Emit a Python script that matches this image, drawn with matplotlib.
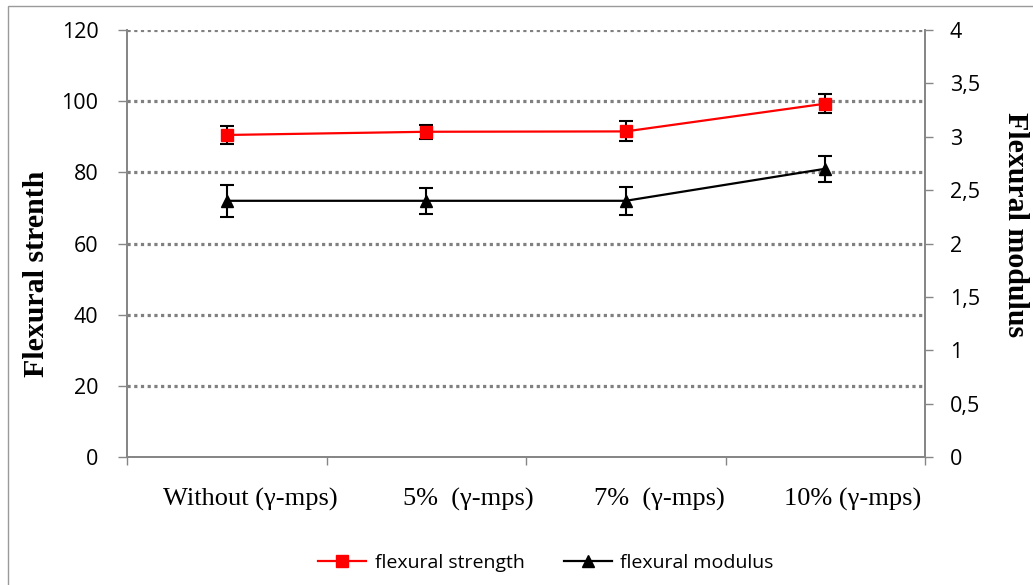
import matplotlib
matplotlib.use("Agg")
import matplotlib.pyplot as plt
import matplotlib.transforms as mtransforms
from matplotlib.patches import Rectangle
from matplotlib.lines import Line2D

categories = ["Without (\u03b3-mps)", "5%  (\u03b3-mps)", "7%  (\u03b3-mps)", "10% (\u03b3-mps)"]
strength = [90.5, 91.4, 91.5, 99.3]
strength_err = [2.6, 2.0, 2.8, 2.6]
modulus = [2.40, 2.40, 2.40, 2.70]
modulus_err = [0.15, 0.12, 0.13, 0.12]
left_ticks = [0, 20, 40, 60, 80, 100, 120]
right_ticks = [0, 0.5, 1, 1.5, 2, 2.5, 3, 3.5, 4]
right_labels = ["0", "0,5", "1", "1,5", "2", "2,5", "3", "3,5", "4"]

W, H = 1033, 585
fig = plt.figure(figsize=(W / 100, H / 100), dpi=100)
fig.patch.set_facecolor("white")

# outer chart border
fig.patches.append(Rectangle((8 / W, -0.05), 1.2, 1 - 6 / H + 0.05, transform=fig.transFigure,
                             fill=False, edgecolor="#9a9a9a", linewidth=1.0))

ax = fig.add_axes([127 / W, 1 - 457 / H, (925 - 127) / W, (457 - 30) / H])
ax2 = ax.twinx()

tickfont = "Open Sans"
spine_c = "#868686"

x = list(range(len(categories)))
ax.set_xlim(-0.5, len(categories) - 0.5)
ax.set_ylim(0, 120)
ax2.set_ylim(0, 4)

# grid
for v in left_ticks[1:]:
    ax.axhline(v, color="#808080", linewidth=2.3, linestyle=(0, (1, 1.1)),
               dash_capstyle="butt", zorder=1)

for a in (ax, ax2):
    a.spines["top"].set_visible(False)
    for s in ("left", "right", "bottom"):
        a.spines[s].set_color(spine_c)
        a.spines[s].set_linewidth(1.3)

ax.set_yticks(left_ticks)
ax.set_yticklabels([str(t) for t in left_ticks], fontfamily=tickfont, fontsize=15.5)
ax.tick_params(axis="y", direction="out", length=6.5, width=1.0, color=spine_c, pad=14)

ax2.set_yticks(right_ticks)
ax2.set_yticklabels(right_labels, fontfamily=tickfont, fontsize=15.5)
ax2.tick_params(axis="y", direction="out", length=6, width=1.0, color=spine_c, pad=12)

ax.set_xticks(x)
ax.set_xticklabels(categories, fontfamily="Liberation Serif", fontsize=19)
ax.tick_params(axis="x", which="major", length=0, pad=22)
ax.set_xticks([i - 0.5 for i in range(len(categories) + 1)], minor=True)
ax.tick_params(axis="x", which="minor", direction="out", length=6, width=1.0, color=spine_c)

# label horizontal offsets (pixels) as in the reference
label_dx = [24, 42, 34, 27]
for lbl, dx in zip(ax.get_xticklabels(), label_dx):
    lbl.set_transform(lbl.get_transform() +
                      mtransforms.ScaledTranslation(dx / 100, 0, fig.dpi_scale_trans))

ax.errorbar(x, strength, yerr=strength_err, color="#ff0000", linewidth=1.6,
            marker="s", markersize=8.5, markerfacecolor="#ff0000", markeredgecolor="#ff0000",
            ecolor="black", elinewidth=1.5, capsize=5, capthick=1.5, zorder=5)
ax2.errorbar(x, modulus, yerr=modulus_err, color="black", linewidth=1.6,
             marker="^", markersize=8, markerfacecolor="black", markeredgecolor="black",
             ecolor="black", elinewidth=1.5, capsize=5, capthick=1.5, zorder=5)

fig.text(37 / W, 1 - 274 / H, "Flexural strenth", rotation=90, ha="center", va="center",
         fontfamily="Liberation Serif", fontweight="bold", fontsize=21.5)
fig.text(1015 / W, 1 - 225 / H, "Flexural modulus", rotation=-90, ha="center", va="center",
         fontfamily="Liberation Serif", fontweight="bold", fontsize=21.5)

handles = [Line2D([], [], color="#ff0000", linewidth=1.6, marker="s", markersize=8.5),
           Line2D([], [], color="black", linewidth=1.6, marker="^", markersize=8)]
leg = fig.legend(handles, ["flexural strength", "flexural modulus"], loc="center",
                 bbox_to_anchor=(546 / W, 1 - 563 / H), ncol=2, frameon=False,
                 prop={"family": tickfont, "size": 14}, handlelength=2.47,
                 handletextpad=0.45, columnspacing=2.0)

fig.savefig("out.png", dpi=100, facecolor="white")
